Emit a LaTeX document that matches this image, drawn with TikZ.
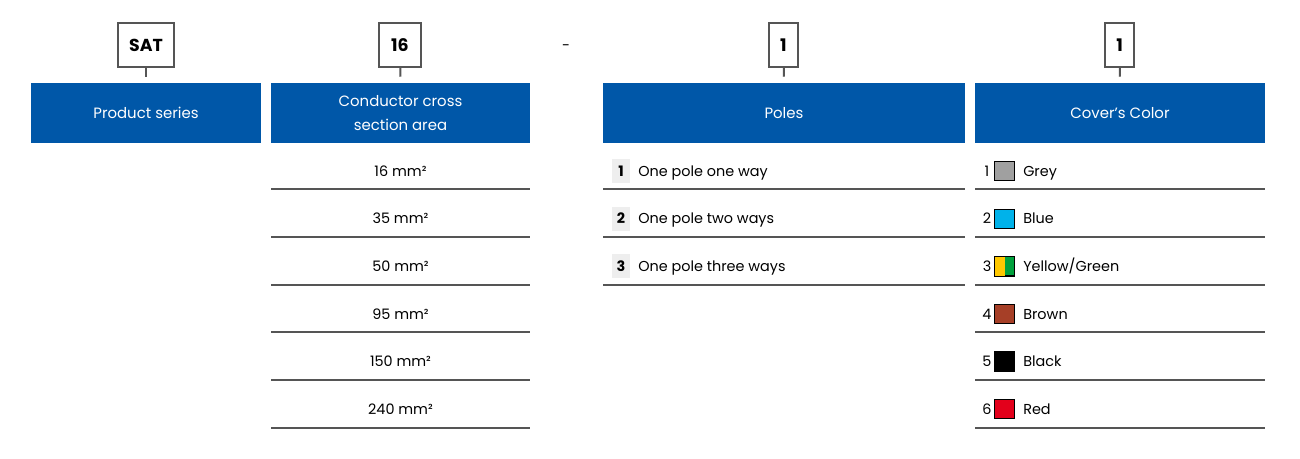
\documentclass[tikz,border=0pt]{standalone}
\usepackage{fontspec}
\setmainfont{Poppins}
\usetikzlibrary{positioning}
\definecolor{headblue}{HTML}{0057A8}
\definecolor{rulegray}{HTML}{555555}
\definecolor{numgray}{HTML}{EEEEEE}
\definecolor{swyellow}{HTML}{FFC800}
\tikzset{
	head/.style={fill=headblue,text=white,minimum height=45pt,inner sep=0pt,align=center,font=\fontsize{11.2}{18.5}\selectfont},
	codebox/.style={draw=rulegray,line width=1.5pt,minimum height=33pt,inner sep=0pt,text height=9.5pt,text depth=0pt,font=\fontsize{13}{15}\selectfont\bfseries},
	item/.style={inner sep=0pt,text height=8pt,text depth=0pt,font=\fontsize{10.8}{13}\selectfont},
	swatch/.style={draw=black,line width=0.6pt,minimum size=14.5pt,inner sep=0pt},
	rowline/.style={draw=rulegray,line width=1.5pt}
}
\begin{document}
\begin{tikzpicture}[x=0.75pt,y=-0.75pt]
		\useasboundingbox (0,0) rectangle (1300,458);
		%put the header bars
		\node[head,minimum width=172.5pt] (h1) at (146,113) {Product series};
		\node[head,minimum width=194.25pt] (h2) at (400.5,113) {Conductor cross\\section area};
		\node[head,minimum width=271.5pt] (h3) at (784,113) {Poles};
		\node[head,minimum width=217.5pt] (h4) at (1120,113) {Cover's Color};
		%put the code boxes on top
		\node[codebox,minimum width=42pt] (k1) at (146,45) {SAT};
		\node[codebox,minimum width=31.5pt] (k2) at (400,45) {16};
		\node[codebox,minimum width=21.75pt] (k3) at (783.5,45) {1};
		\node[codebox,minimum width=21.75pt] (k4) at (1119.5,45) {1};
		\node[item] (dash) at (566,45) {-};
		\foreach \i in {1,2,3,4}{
			\draw[rulegray,line width=1.5pt,shorten >=4.5pt] (k\i) -- (h\i.north);
		}
		%put the section rows
		\foreach \t[count=\i] in {16,35,50,95,150,240}{
			\node[item] (s\i) at (400.5,{171+47.6*(\i-1)}) {\t\ mm²};
			\draw[rowline] (271,{189+47.8*(\i-1)}) -- (530,{189+47.8*(\i-1)});
		}
		%put the pole rows
		\foreach \t[count=\i] in {One pole one way,One pole two ways,One pole three ways}{
			\node[fill=numgray,minimum width=13.5pt,minimum height=18pt,inner sep=0pt,font=\fontsize{10.8}{13}\selectfont\bfseries] (n\i) at (621,{171+47.6*(\i-1)}) {\i};
			\node[item,anchor=west] (p\i) at (638,{171+47.6*(\i-1)}) {\t};
			\draw[rowline] (603,{189+47.8*(\i-1)}) -- (965,{189+47.8*(\i-1)});
		}
		%put the color rows
		\foreach \t/\c[count=\i] in {Grey/A0A0A0,Blue/00B2EA,{Yellow/Green}/00A03C,Brown/A63F27,Black/000000,Red/E3001B}{
			\definecolor{sw}{HTML}{\c}
			\node[item] (m\i) at (987,{171+47.6*(\i-1)}) {\i};
			\node[swatch,fill=sw] (q\i) at (1004.5,{171+47.6*(\i-1)}) {};
			\node[item,anchor=west] (c\i) at (1023,{171+47.6*(\i-1)}) {\t};
			\draw[rowline] (975,{189+47.8*(\i-1)}) -- (1265,{189+47.8*(\i-1)});
		}
		%yellow half of the yellow/green swatch
		\fill[swyellow] (q3.north west) rectangle (q3.south);
		\draw[black,line width=0.6pt] (q3.north west) rectangle (q3.south east);
\end{tikzpicture}
\end{document}
